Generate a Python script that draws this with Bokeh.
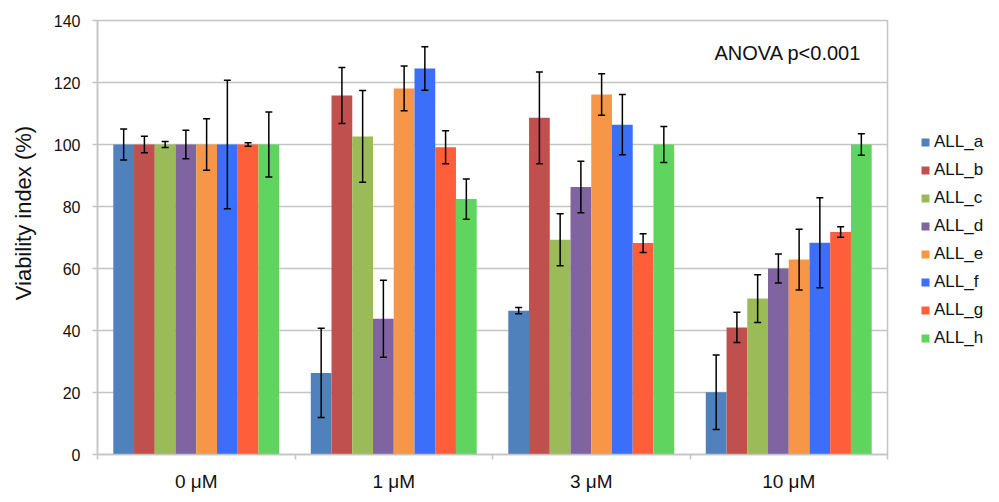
from bokeh.plotting import figure
from bokeh.models import (Range1d, FixedTicker, Legend, LegendItem, Label,
                          Whisker, ColumnDataSource, TeeHead)
from bokeh.embed import file_html
from bokeh.resources import INLINE

groups = ["0 μM", "1 μM", "3 μM", "10 μM"]
series = ["ALL_a", "ALL_b", "ALL_c", "ALL_d", "ALL_e", "ALL_f", "ALL_g", "ALL_h"]
colors = ["#4F81BD", "#C0504D", "#9BBB59", "#8064A2", "#F79646", "#3B6FFA", "#FF5E3A", "#5FD55F"]

# values per series, across groups (0, 1, 3, 10 µM)
ALL_a = [100, 26.3, 46.4, 20.1]
ALL_b = [100, 115.8, 108.6, 41.0]
ALL_c = [100, 102.6, 69.3, 50.3]
ALL_d = [100, 43.8, 86.3, 60.0]
ALL_e = [100, 118.1, 116.1, 62.9]
ALL_f = [100, 124.5, 106.4, 68.3]
ALL_g = [100, 99.1, 68.2, 71.8]
ALL_h = [100, 82.4, 100.0, 100.0]

# error (± SD) per series
err_a = [5.0, 14.4, 1.0, 12.0]
err_b = [2.7, 9.0, 14.8, 4.9]
err_c = [1.0, 14.8, 8.4, 7.7]
err_d = [4.6, 12.4, 8.3, 4.7]
err_e = [8.3, 7.2, 6.7, 9.8]
err_f = [20.7, 7.0, 9.7, 14.5]
err_g = [0.6, 5.3, 3.0, 1.7]
err_h = [10.5, 6.5, 5.8, 3.5]

values = [ALL_a, ALL_b, ALL_c, ALL_d, ALL_e, ALL_f, ALL_g, ALL_h]
errors = [err_a, err_b, err_c, err_d, err_e, err_f, err_g, err_h]

y_ticks = [0, 20, 40, 60, 80, 100, 120, 140]

FONT = "Liberation Sans"
TXT = "#111111"
GRID = "#C4C4C4"

p = figure(frame_width=790, frame_height=434, output_backend="svg",
           toolbar_location=None,
           x_range=Range1d(0, 4), y_range=Range1d(0, 140),
           min_border_left=97, min_border_right=110, min_border_top=20,
           min_border_bottom=46)
p.outline_line_color = GRID
p.outline_line_width = 1.5
p.background_fill_color = "white"
p.border_fill_color = "white"

bw = 0.105
items = []
for i, (name, vals, errs, col) in enumerate(zip(series, values, errors, colors)):
    xs = [g + 0.5 + (i - 3.5) * bw for g in range(len(groups))]
    src = ColumnDataSource(dict(x=xs, top=vals,
                                upper=[v + e for v, e in zip(vals, errs)],
                                lower=[v - e for v, e in zip(vals, errs)]))
    r = p.vbar(x="x", top="top", bottom=0, width=bw, source=src,
               fill_color=col, line_color=None)
    items.append(LegendItem(label=name, renderers=[r]))
    w = Whisker(base="x", upper="upper", lower="lower", source=src,
                line_color="black", line_width=1.5, level="overlay",
                upper_head=TeeHead(size=7, line_color="black", line_width=1.5),
                lower_head=TeeHead(size=7, line_color="black", line_width=1.5))
    p.add_layout(w)

# x axis
p.xaxis.ticker = FixedTicker(ticks=[g + 0.5 for g in range(len(groups))],
                             minor_ticks=list(range(len(groups) + 1)))
p.xaxis.major_label_overrides = {g + 0.5: lab for g, lab in enumerate(groups)}
p.xaxis.major_tick_line_color = None
p.xaxis.major_tick_out = 0
p.xaxis.major_tick_in = 0
p.xaxis.minor_tick_line_color = GRID
p.xaxis.minor_tick_line_width = 1.5
p.xaxis.minor_tick_out = 5
p.xaxis.minor_tick_in = 0
p.xaxis.axis_line_color = GRID
p.xaxis.axis_line_width = 1.5
p.xaxis.major_label_standoff = 11
p.xaxis.major_label_text_font = FONT
p.xaxis.major_label_text_font_size = "19px"
p.xaxis.major_label_text_color = TXT
p.xgrid.grid_line_color = None

# y axis
p.yaxis.ticker = FixedTicker(ticks=y_ticks, minor_ticks=[])
p.yaxis.axis_label = "\u00a0" * 8 + "Viability index (%)"
p.yaxis.axis_label_text_font = FONT
p.yaxis.axis_label_text_font_style = "normal"
p.yaxis.axis_label_text_font_size = "22px"
p.yaxis.axis_label_text_color = TXT
p.yaxis.axis_label_standoff = 15
p.yaxis.major_label_text_font = FONT
p.yaxis.major_label_text_font_size = "16px"
p.yaxis.major_label_text_color = TXT
p.yaxis.major_label_standoff = 12
p.yaxis.axis_line_color = GRID
p.yaxis.axis_line_width = 1.5
p.yaxis.major_tick_line_color = GRID
p.yaxis.major_tick_line_width = 1.5
p.yaxis.major_tick_out = 5
p.yaxis.major_tick_in = 0
p.ygrid.grid_line_color = GRID
p.ygrid.grid_line_width = 1.5

legend = Legend(items=items, location=(33, 106), orientation="vertical",
                glyph_width=10, glyph_height=10, label_height=20, spacing=8,
                label_standoff=4, padding=0, margin=0,
                label_text_font=FONT, label_text_font_size="17px",
                label_text_color=TXT, border_line_color=None,
                background_fill_alpha=0)
p.add_layout(legend, "right")

anova = Label(x=617, y=402, x_units="screen", y_units="screen",
              text="ANOVA p<0.001", text_font=FONT, text_font_size="20px",
              text_color=TXT, text_baseline="middle", text_align="left")
p.add_layout(anova)

open("out.html", "w").write(file_html(p, INLINE))
